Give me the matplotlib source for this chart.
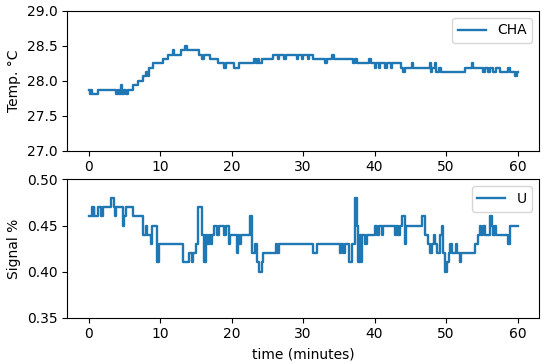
import matplotlib
matplotlib.use("Agg")
import matplotlib.pyplot as plt

# temperature, step breakpoints (minutes, deg C)
cha_steps = [
    (0.0, 27.875), (0.2, 27.8125), (0.4, 27.875), (0.55, 27.8125),
    (1.3, 27.875), (3.9, 27.8125), (4.1, 27.875), (4.3, 27.8125),
    (4.5, 27.9375), (4.7, 27.8125), (5.0, 27.875), (5.2, 27.8125),
    (5.5, 27.875), (6.2, 27.9375), (6.9, 28.0), (7.6, 28.0625),
    (8.1, 28.125), (8.3, 28.0625), (8.5, 28.1875), (9.0, 28.25),
    (10.4, 28.3125), (11.1, 28.375), (11.8, 28.4375), (12.0, 28.375),
    (12.9, 28.4375), (13.5, 28.5), (13.7, 28.4375), (15.4, 28.375),
    (15.9, 28.3125), (16.1, 28.375), (17.0, 28.3125), (18.1, 28.25),
    (19.0, 28.1875), (19.2, 28.25), (20.3, 28.1875), (21.1, 28.25),
    (23.2, 28.3125), (23.4, 28.25), (23.7, 28.3125), (23.9, 28.25),
    (24.2, 28.3125), (25.8, 28.375), (26.5, 28.3125), (26.7, 28.375),
    (27.4, 28.3125), (27.6, 28.375), (29.1, 28.3125), (29.3, 28.375),
    (29.8, 28.3125), (30.0, 28.375), (30.7, 28.3125), (30.9, 28.375),
    (31.4, 28.3125), (33.1, 28.25), (33.3, 28.3125), (34.1, 28.375),
    (34.3, 28.3125), (37.0, 28.25), (37.3, 28.3125), (37.6, 28.25),
    (39.2, 28.3125), (39.5, 28.25), (40.0, 28.1875), (40.2, 28.25),
    (40.6, 28.1875), (40.8, 28.25), (41.5, 28.1875), (41.7, 28.25),
    (42.3, 28.1875), (42.5, 28.25), (43.7, 28.1875), (44.0, 28.125),
    (44.2, 28.1875), (45.2, 28.25), (45.4, 28.1875), (47.7, 28.25),
    (47.9, 28.125), (48.1, 28.1875), (48.4, 28.25), (48.6, 28.125),
    (49.0, 28.1875), (49.3, 28.125), (52.6, 28.1875), (53.6, 28.25),
    (53.8, 28.1875), (55.1, 28.125), (55.5, 28.1875), (55.9, 28.125),
    (56.2, 28.1875), (56.6, 28.125), (57.0, 28.1875), (57.5, 28.125),
    (58.6, 28.1875), (58.9, 28.125), (59.7, 28.0625), (59.9, 28.125),
    (60.0, 28.125),
]

# signal, step breakpoints (minutes, %)
u_steps = [
    (0.0, 0.46), (0.5, 0.47), (0.6, 0.46), (0.7, 0.47), (0.8, 0.46),
    (1.3, 0.47), (1.8, 0.46), (2.0, 0.47), (3.2, 0.48), (3.5, 0.47),
    (3.7, 0.46), (3.9, 0.47), (4.8, 0.45), (5.0, 0.46), (5.3, 0.47),
    (6.2, 0.46), (7.6, 0.44), (8.0, 0.45), (8.2, 0.44), (8.7, 0.43),
    (8.9, 0.45), (9.6, 0.41), (9.8, 0.43), (13.2, 0.41), (14.0, 0.42),
    (14.4, 0.41), (14.6, 0.42), (15.0, 0.43), (15.3, 0.47), (15.9, 0.44),
    (16.2, 0.41), (16.4, 0.44), (16.6, 0.43), (16.8, 0.44), (17.1, 0.43),
    (17.3, 0.44), (17.6, 0.45), (18.0, 0.44), (18.2, 0.45), (19.0, 0.44),
    (19.2, 0.45), (19.6, 0.43), (19.8, 0.44), (20.7, 0.42), (20.9, 0.44),
    (21.1, 0.43), (21.3, 0.44), (22.6, 0.46), (22.8, 0.42), (23.3, 0.43),
    (23.5, 0.41), (23.8, 0.40), (24.2, 0.41), (24.4, 0.42), (26.2, 0.43),
    (26.4, 0.42), (26.6, 0.43), (31.4, 0.42), (31.9, 0.43), (35.1, 0.42),
    (35.3, 0.43), (35.6, 0.42), (35.9, 0.43), (36.4, 0.41), (36.9, 0.43),
    (37.2, 0.48), (37.5, 0.45), (37.7, 0.41), (37.9, 0.44), (38.1, 0.41),
    (38.3, 0.44), (38.7, 0.43), (38.9, 0.44), (40.0, 0.45), (40.4, 0.44),
    (40.6, 0.45), (41.0, 0.44), (41.2, 0.45), (42.8, 0.44), (43.0, 0.45),
    (43.3, 0.44), (43.6, 0.45), (43.9, 0.46), (44.2, 0.43), (44.4, 0.45),
    (46.7, 0.46), (47.1, 0.44), (47.5, 0.43), (47.8, 0.42), (48.0, 0.43),
    (48.3, 0.44), (48.5, 0.43), (48.8, 0.42), (49.1, 0.44), (49.4, 0.45),
    (49.6, 0.42), (49.9, 0.40), (50.2, 0.41), (50.4, 0.42), (50.6, 0.43),
    (50.8, 0.42), (51.4, 0.43), (51.6, 0.42), (51.9, 0.41), (52.1, 0.42),
    (54.0, 0.43), (54.5, 0.44), (54.7, 0.45), (54.9, 0.44), (55.2, 0.45),
    (55.4, 0.44), (56.1, 0.46), (56.4, 0.45), (56.6, 0.44), (56.8, 0.45),
    (57.0, 0.44), (58.7, 0.43), (58.9, 0.45), (60.0, 0.45),
]

t_cha = [p[0] for p in cha_steps]
cha = [p[1] for p in cha_steps]
t_u = [p[0] for p in u_steps]
u = [p[1] for p in u_steps]

fig = plt.figure(figsize=(5.5, 3.64), dpi=100)
ax1 = fig.add_axes([0.122, 0.586, 0.858, 0.384])
ax1.plot(t_cha, cha, drawstyle="steps-post", color="#1f77b4", lw=1.7,
         label="CHA")
ax1.set_ylim(27.0, 29.0)
ax1.set_ylabel("Temp. °C")
ax1.legend(loc="upper right")

ax2 = fig.add_axes([0.122, 0.127, 0.858, 0.380])
ax2.plot(t_u, u, drawstyle="steps-post", color="#1f77b4", lw=1.7, label="U")
ax2.set_ylim(0.35, 0.50)
ax2.set_yticks([0.35, 0.40, 0.45, 0.50])
ax2.set_ylabel("Signal %")
ax2.set_xlabel("time (minutes)")
ax2.legend(loc="upper right")

for ax in (ax1, ax2):
    ax.set_xlim(-3, 63)
    ax.set_xticks([0, 10, 20, 30, 40, 50, 60])

fig.savefig("out.png", dpi=100)
